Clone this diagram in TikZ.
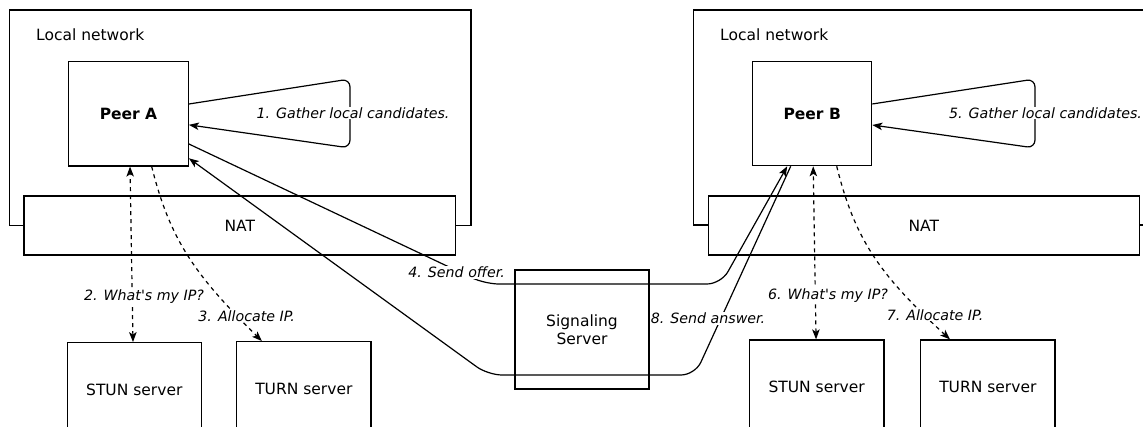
\documentclass[tikz,border=0pt]{standalone}
\usepackage{fontspec}
\setmainfont{DejaVu Sans}
\usetikzlibrary{arrows.meta}
\tikzset{
  box/.style={draw=black, fill=white, line width=1.2pt, rectangle, inner sep=0pt,
              font=\fontsize{15.5}{18}\selectfont, align=center},
  plain/.style={font=\fontsize{15.5}{18}\selectfont, inner sep=0pt},
  lbl/.style={fill=white, inner sep=1pt, font=\fontsize{14.2}{17}\selectfont\itshape},
  conn/.style={line width=1.2pt, -{Stealth[length=10pt,width=7.5pt,inset=2.5pt]}},
  dconn/.style={conn, dash pattern=on 4pt off 4pt},
}
\begin{document}
\begin{tikzpicture}[x=1pt,y=-1pt]
\useasboundingbox (0,0) rectangle (1143,427);
\clip (0,0) rectangle (1143,427);
\fill[white] (0,0) rectangle (1143,427);

% local networks
\node[box, minimum width=461.5pt, minimum height=215.5pt] (lnA) at (240.25,117.75) {};
\node[box, minimum width=466.7pt, minimum height=215pt] (lnB) at (926.65,117.5) {};
\node[plain, anchor=base west] (lnAt) at (36,41) {Local network};
\node[plain, anchor=base west] (lnBt) at (720,41) {Local network};

% NATs
\node[box, minimum width=431.5pt, minimum height=59pt] (natA) at (239.75,225.5) {NAT};
\node[box, minimum width=431pt, minimum height=59pt] (natB) at (923.8,225.5) {NAT};

% peers
\node[box, minimum width=119.6pt, minimum height=104.3pt, font=\fontsize{15.5}{18}\selectfont\bfseries] (peerA) at (128.5,113.85) {Peer A};
\node[box, minimum width=119pt, minimum height=104pt, font=\fontsize{15.5}{18}\selectfont\bfseries] (peerB) at (812.2,113.7) {Peer B};

% servers
\node[box, minimum width=134pt, minimum height=94pt] (stunA) at (134.3,389.7) {STUN server};
\node[box, minimum width=134.3pt, minimum height=94pt] (turnA) at (303.85,388.7) {TURN server};
\node[box, minimum width=134.7pt, minimum height=94pt] (stunB) at (816.65,387) {STUN server};
\node[box, minimum width=134.3pt, minimum height=94pt] (turnB) at (987.85,387) {TURN server};
\node[box, minimum width=134pt, minimum height=119pt] (sig) at (582,329.5) {Signaling\\Server};

% loops: gather local candidates
\draw[conn, rounded corners=8pt] ([yshift=9.85pt]peerA.east) -- (350,79) -- (350,148) -- ([yshift=-11pt]peerA.east);
\node[lbl] (l1) at (353,113) {1. Gather local candidates.};
\draw[conn, rounded corners=8pt] ([yshift=9.7pt]peerB.east) -- (1035,79) -- (1035,148) -- ([yshift=-11.3pt]peerB.east);
\node[lbl] (l5) at (1045.5,113) {5. Gather local candidates.};

% STUN / TURN requests
\draw[dconn, {Stealth[length=10pt,width=7.5pt,inset=2.5pt]}-{Stealth[length=10pt,width=7.5pt,inset=2.5pt]}]
  ([xshift=-1.3pt]stunA.north) -- ([xshift=1.5pt]peerA.south);
\node[lbl] (l2) at (144,297) {2. What\textquotesingle s my IP?};
\draw[dconn] ([xshift=23.2pt]peerA.south) .. controls (170,240) and (195,275) .. ([xshift=-42pt]turnA.north);
\node[lbl] (l3) at (246.7,316) {3. Allocate IP.};

\draw[dconn, {Stealth[length=10pt,width=7.5pt,inset=2.5pt]}-{Stealth[length=10pt,width=7.5pt,inset=2.5pt]}]
  ([xshift=-0.6pt]stunB.north) -- ([xshift=1pt]peerB.south);
\node[lbl] (l6) at (828,296) {6. What\textquotesingle s my IP?};
\draw[dconn] ([xshift=24.5pt]peerB.south) .. controls (855,240) and (880,275) .. ([xshift=-37.85pt]turnB.north);
\node[lbl] (l7) at (935,315) {7. Allocate IP.};

% offer / answer via signaling server
\coordinate (o1) at (485,284);
\coordinate (o2) at (721,284);
\draw[conn, rounded corners=14pt] ([yshift=-30.15pt]peerA.east) -- (o1) -- (o2) -- ([xshift=-25pt]peerB.south);
\node[lbl] (l4) at (456.7,272.7) {4. Send offer.};

\coordinate (a1) at (695,375);
\coordinate (a2) at (488,375);
\draw[conn, rounded corners=14pt] ([xshift=-21.5pt]peerB.south) -- (a1) -- (a2) -- ([yshift=-44.45pt]peerA.east);
\node[lbl] (l8) at (708,318.3) {8. Send answer.};
\end{tikzpicture}
\end{document}
